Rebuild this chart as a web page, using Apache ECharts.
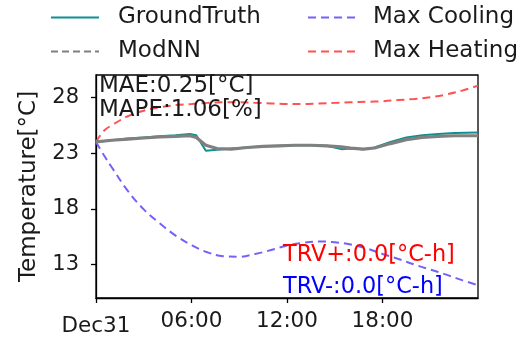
<!DOCTYPE html>
<html>
<head>
<meta charset="utf-8">
<script src="https://cdn.jsdelivr.net/npm/echarts@6/dist/echarts.min.js"></script>
<style>
  html, body { margin: 0; padding: 0; background: #fff; }
  #main { width: 528px; height: 339px; }
</style>
</head>
<body>
<div id="main"></div>
<script>
// hours since Dec31 00:00
var truthHours = [0, 1, 2, 3, 4, 5, 5.9, 6.3, 6.9, 7.6, 8.5, 9.5, 10.5, 11.5, 12.5, 13.5, 14.5, 15.4, 16, 16.8, 17.5, 18.5, 19.5, 20.5, 21.5, 22.5, 24];
var groundTruth = [24.0, 24.15, 24.3, 24.4, 24.5, 24.6, 24.7, 24.6, 23.2, 23.3, 23.4, 23.5, 23.6, 23.65, 23.7, 23.7, 23.65, 23.35, 23.4, 23.35, 23.5, 24.0, 24.4, 24.6, 24.7, 24.8, 24.85];
var modNN = [24.0, 24.15, 24.25, 24.35, 24.45, 24.5, 24.55, 24.4, 23.7, 23.4, 23.35, 23.5, 23.6, 23.65, 23.7, 23.7, 23.65, 23.55, 23.45, 23.35, 23.45, 23.85, 24.2, 24.4, 24.5, 24.55, 24.55];

var boundHours = [0, 0.5, 1, 2, 3, 4, 5, 6, 7, 8, 9, 10, 11, 12, 13, 14, 15, 16, 17, 18, 19, 20, 21, 22, 23, 24];
var maxCooling = [24.0, 22.8, 21.7, 19.6, 17.95, 16.7, 15.6, 14.75, 14.1, 13.75, 13.7, 13.95, 14.3, 14.7, 14.95, 15.07, 15.0, 14.8, 14.45, 13.95, 13.5, 13.0, 12.55, 12.1, 11.6, 11.15];
var maxHeating = [24.0, 25.0, 25.5, 26.3, 26.8, 27.1, 27.3, 27.4, 27.5, 27.55, 27.55, 27.5, 27.45, 27.4, 27.4, 27.45, 27.5, 27.55, 27.6, 27.65, 27.75, 27.85, 28.0, 28.25, 28.6, 29.05];

var xTicks = [0, 6, 12, 18];
var xTickLabels = ['Dec31', '06:00', '12:00', '18:00'];
var yTicks = [13, 18, 23, 28];

var maeText = 'MAE:0.25[°C]';
var mapeText = 'MAPE:1.06[%]';
var trvPlusText = 'TRV+:0.0[°C-h]';
var trvMinusText = 'TRV-:0.0[°C-h]';

function pairs(xs, ys) {
  return xs.map(function (x, i) { return [x, ys[i]]; });
}

var FONT = 'DejaVu Sans';
var chart = echarts.init(document.getElementById('main'), null, { renderer: 'canvas' });

var option = {
  animation: false,
  textStyle: { fontFamily: FONT },
  grid: {
    left: 96, right: 50, top: 75, bottom: 41,
    show: true, borderColor: '#000', borderWidth: 1.3, backgroundColor: 'transparent'
  },
  legend: [{
    orient: 'vertical', left: 50, top: 6, padding: 0,
    itemWidth: 48, itemHeight: 14, itemGap: 11,
    itemStyle: { opacity: 0 },
    textStyle: { fontFamily: FONT, fontSize: 23, color: '#1a1a1a', padding: [0, 0, 0, 14] },
    data: [
      { name: 'GroundTruth' },
      { name: 'ModNN', lineStyle: { type: [7, 4], width: 2 } }
    ]
  }, {
    orient: 'vertical', left: 307, top: 6, padding: 0,
    itemWidth: 48, itemHeight: 14, itemGap: 11,
    itemStyle: { opacity: 0 },
    textStyle: { fontFamily: FONT, fontSize: 23, color: '#1a1a1a', padding: [0, 0, 0, 12] },
    data: ['Max Cooling', 'Max Heating']
  }],
  xAxis: {
    type: 'value', min: 0, max: 24,
    axisLine: { show: true, onZero: false, lineStyle: { color: '#000', width: 1.3 } },
    axisTick: { show: true, inside: false, length: 5, customValues: xTicks, lineStyle: { color: '#000', width: 1.3 } },
    axisLabel: {
      customValues: xTicks, margin: 12, fontSize: 21.5, color: '#1a1a1a', fontFamily: FONT,
      formatter: function (v) {
        var i = xTicks.indexOf(v);
        if (i === 0) return '{d|' + xTickLabels[i] + '}';
        return i >= 0 ? xTickLabels[i] : '';
      },
      rich: { d: { fontSize: 21.5, fontFamily: FONT, color: '#1a1a1a', padding: [5, 0, 0, 0] } }
    },
    splitLine: { show: false }
  },
  yAxis: {
    type: 'value', min: 10, max: 30,
    name: 'Temperature[°C]', nameLocation: 'middle', nameGap: 55,
    nameTextStyle: { fontSize: 23, color: '#1a1a1a', fontFamily: FONT },
    axisLine: { show: true, lineStyle: { color: '#000', width: 1.3 } },
    axisTick: { show: true, inside: false, length: 5, customValues: yTicks, lineStyle: { color: '#000', width: 1.3 } },
    axisLabel: { customValues: yTicks, margin: 17, fontSize: 21, color: '#1a1a1a', fontFamily: FONT },
    splitLine: { show: false }
  },
  series: [
    {
      name: 'GroundTruth', type: 'line', symbol: 'none', z: 3,
      data: pairs(truthHours, groundTruth),
      lineStyle: { color: '#0f9090', width: 2 }, itemStyle: { color: '#0f9090' }
    },
    {
      name: 'ModNN', type: 'line', symbol: 'none', z: 4,
      data: pairs(truthHours, modNN),
      lineStyle: { color: '#808080', width: 3.2 }, itemStyle: { color: '#808080' }
    },
    {
      name: 'Max Cooling', type: 'line', symbol: 'none', smooth: 0.4, z: 2,
      data: pairs(boundHours, maxCooling),
      lineStyle: { color: '#7462f7', width: 2, type: [8, 5] }, itemStyle: { color: '#7462f7' }
    },
    {
      name: 'Max Heating', type: 'line', symbol: 'none', smooth: 0.4, z: 2,
      data: pairs(boundHours, maxHeating),
      lineStyle: { color: '#ff5252', width: 2, type: [8, 5] }, itemStyle: { color: '#ff5252' }
    }
  ],
  graphic: [
    { type: 'text', left: 99, top: 75, z: 10, style: { text: maeText, font: '23px "DejaVu Sans"', fill: '#1a1a1a' } },
    { type: 'text', left: 99, top: 99, z: 10, style: { text: mapeText, font: '23px "DejaVu Sans"', fill: '#1a1a1a' } },
    { type: 'text', left: 283, top: 244, z: 10, style: { text: trvPlusText, font: '22.4px "DejaVu Sans"', fill: '#ff0000' } },
    { type: 'text', left: 283, top: 276, z: 10, style: { text: trvMinusText, font: '22.4px "DejaVu Sans"', fill: '#0000ff' } }
  ]
};
chart.setOption(option);
</script>
</body>
</html>
